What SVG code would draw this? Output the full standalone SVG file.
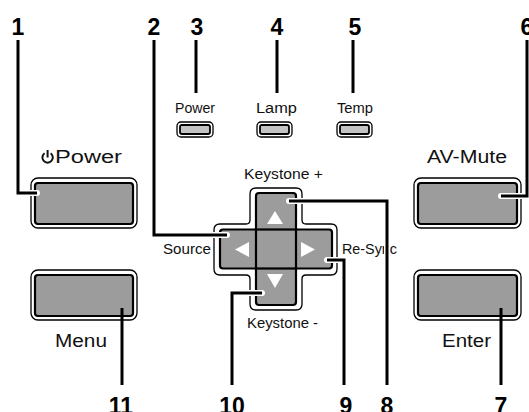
<svg xmlns="http://www.w3.org/2000/svg" width="529" height="412" viewBox="0 0 529 412">
<defs>
<style>
.num{font-family:"Liberation Sans",Arial,sans-serif;font-weight:bold;font-size:23px;fill:#000;text-anchor:middle}
.big{font-family:"Liberation Sans",Arial,sans-serif;font-size:18px;fill:#111}
.sm{font-family:"Liberation Sans",Arial,sans-serif;font-size:14px;fill:#111}
.outer{fill:#fff;stroke:#000;stroke-width:1.3}
.inner{fill:#9c9c9c;stroke:#000;stroke-width:2.2}
.led{fill:#c4c4c4;stroke:#000;stroke-width:1.8}
.tri{fill:#fff}
.halo{fill:none;stroke:#fff;stroke-width:6;stroke-linecap:round;stroke-linejoin:miter}
.ln{fill:none;stroke:#000;stroke-width:3;stroke-linecap:butt;stroke-linejoin:miter}
</style>
</defs>
<rect width="529" height="412" fill="#fff"/>

<g id="btn-power">
<rect class="outer" x="31" y="178" width="106" height="50" rx="7"/>
<rect class="inner" x="35" y="183" width="98" height="41" rx="3"/>
<path d="M44.6,153.2 A5.2,5.2 0 1 0 50.6,153.2" fill="none" stroke="#111" stroke-width="2"/>
<line x1="47.6" y1="150" x2="47.6" y2="157.5" stroke="#111" stroke-width="2"/>
<text class="big" x="55" y="163" textLength="67" lengthAdjust="spacingAndGlyphs">Power</text>
</g>

<g id="btn-avmute">
<rect class="outer" x="414" y="178" width="107" height="50" rx="7"/>
<rect class="inner" x="418" y="183" width="99" height="41" rx="3"/>
<text class="big" x="427" y="163" textLength="80" lengthAdjust="spacingAndGlyphs">AV-Mute</text>
</g>

<g id="btn-menu">
<rect class="outer" x="31" y="270" width="106" height="50" rx="7"/>
<rect class="inner" x="35" y="275" width="98" height="41" rx="3"/>
<text class="big" x="55" y="347" textLength="52" lengthAdjust="spacingAndGlyphs">Menu</text>
</g>

<g id="btn-enter">
<rect class="outer" x="414" y="270" width="107" height="50" rx="7"/>
<rect class="inner" x="418" y="275" width="99" height="41" rx="3"/>
<text class="big" x="442" y="347" textLength="49" lengthAdjust="spacingAndGlyphs">Enter</text>
</g>

<g id="led-power">
<rect class="outer" x="177" y="122" width="36" height="15" rx="4"/>
<rect class="led" x="180" y="125" width="30" height="9" rx="2"/>
<text class="sm" x="175" y="113" textLength="40" lengthAdjust="spacingAndGlyphs">Power</text>
</g>
<g id="led-lamp">
<rect class="outer" x="257" y="122" width="35" height="15" rx="4"/>
<rect class="led" x="260" y="125" width="29" height="9" rx="2"/>
<text class="sm" x="256" y="113" textLength="41" lengthAdjust="spacingAndGlyphs">Lamp</text>
</g>
<g id="led-temp">
<rect class="outer" x="337" y="122" width="35" height="15" rx="4"/>
<rect class="led" x="340" y="125" width="29" height="9" rx="2"/>
<text class="sm" x="337" y="113" textLength="36" lengthAdjust="spacingAndGlyphs">Temp</text>
</g>

<g id="dpad">
<path class="outer" d="M256,188 H296 Q302,188 302,194 V220 Q302,224 306,224 H331 Q337,224 337,230 V269 Q337,275 331,275 H306 Q302,275 302,279 V304 Q302,310 296,310 H256 Q250,310 250,304 V279 Q250,275 246,275 H220 Q214,275 214,269 V230 Q214,224 220,224 H246 Q250,224 250,220 V194 Q250,188 256,188 Z"/>
<path class="inner" d="M259,193 H293 Q296,193 296,196 V229.5 H329 Q332,229.5 332,232.5 V265.5 Q332,268.5 329,268.5 H296 V302 Q296,305 293,305 H259 Q256,305 256,302 V268.5 H223 Q220,268.5 220,265.5 V232.5 Q220,229.5 223,229.5 H256 V196 Q256,193 259,193 Z"/>
<rect x="256" y="229.5" width="40" height="39" fill="none" stroke="#000" stroke-width="2.2"/>
<polygon class="tri" points="267,224 283,224 275,211"/>
<polygon class="tri" points="249,242 249,257 235,249.5"/>
<polygon class="tri" points="301,242 301,257 315,249.5"/>
<polygon class="tri" points="267,274 283,274 275,288"/>
<text class="sm" x="244" y="179" textLength="79" lengthAdjust="spacingAndGlyphs">Keystone +</text>
<text class="sm" x="163" y="254" textLength="48" lengthAdjust="spacingAndGlyphs">Source</text>
<text class="sm" x="342" y="254" textLength="55" lengthAdjust="spacingAndGlyphs">Re-Sync</text>
<text class="sm" x="247" y="328" textLength="71" lengthAdjust="spacingAndGlyphs">Keystone -</text>
</g>

<g id="connectors">
<path class="halo" d="M18,40 V193 H37"/>
<path class="halo" d="M154,40 V235 H227"/>
<path class="halo" d="M289,201 H387 V385"/>
<path class="halo" d="M327,260 H344 V385"/>
<path class="halo" d="M262,293 H232 V385"/>
<path class="halo" d="M527,40 V196 H501"/>
<path class="ln" d="M18,40 V193 H37"/>
<path class="ln" d="M154,40 V235 H227"/>
<path class="ln" d="M196,40 V93"/>
<path class="ln" d="M277,40 V93"/>
<path class="ln" d="M353,40 V93"/>
<path class="ln" d="M527,40 V196 H501"/>
<path class="ln" d="M501,308 V385"/>
<path class="ln" d="M289,201 H387 V385"/>
<path class="ln" d="M327,260 H344 V385"/>
<path class="ln" d="M262,293 H232 V385"/>
<path class="ln" d="M122,308 V385"/>
</g>

<g id="numbers">
<text class="num" x="18" y="35">1</text>
<text class="num" x="154" y="35">2</text>
<text class="num" x="197" y="35">3</text>
<text class="num" x="277" y="35">4</text>
<text class="num" x="355" y="35">5</text>
<text class="num" x="527" y="35">6</text>
<text class="num" x="501" y="414">7</text>
<text class="num" x="387" y="414">8</text>
<text class="num" x="346" y="414">9</text>
<text class="num" x="232" y="414">10</text>
<text class="num" x="121" y="414">11</text>
</g>
</svg>
